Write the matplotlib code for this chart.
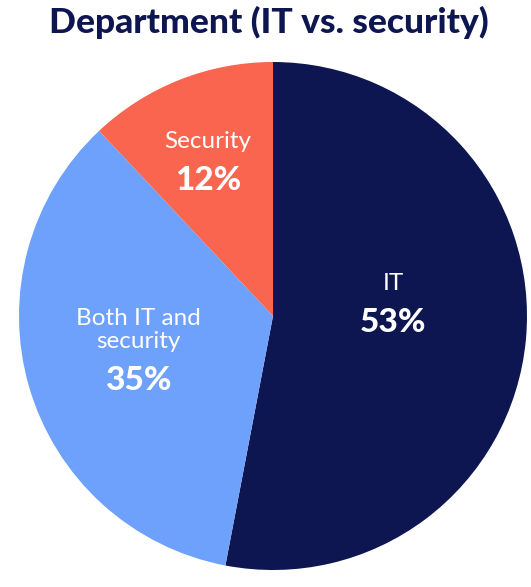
import matplotlib
matplotlib.use("Agg")
import matplotlib.pyplot as plt

# Survey breakdown by department
categories = ["IT", "Both IT and\nsecurity", "Security"]
shares = [53, 35, 12]
colors = ["#0D1650", "#6EA1FB", "#F9654F"]

W, H = 531, 587
fig = plt.figure(figsize=(W / 100, H / 100), dpi=100)
fig.patch.set_facecolor("white")

cx, cy, r = 273, 316, 254  # pie centre / radius in pixels
ax = fig.add_axes([(cx - r) / W, (H - cy - r) / H, 2 * r / W, 2 * r / H])
ax.pie(shares, colors=colors, startangle=90, counterclock=False,
       radius=1, wedgeprops=dict(linewidth=0))
ax.set_xlim(-1, 1)
ax.set_ylim(-1, 1)
ax.set_aspect("equal")
ax.axis("off")

font = ["Lato", "DejaVu Sans"]


def px(x, y):
    return (x - cx) / r, (cy - y) / r


# label anchor points (pixel positions of name / value centres)
name_pos = {"IT": (393, 284), "Both IT and\nsecurity": (138, 330), "Security": (208, 141)}
value_pos = {"IT": (393, 323), "Both IT and\nsecurity": (138, 381), "Security": (208, 180)}

for cat, val in zip(categories, shares):
    x, y = px(*name_pos[cat])
    ax.text(x, y, cat, ha="center", va="center", color="white",
            fontsize=17.5, family=font, linespacing=1.15)
    x, y = px(*value_pos[cat])
    ax.text(x, y, f"{val}%", ha="center", va="center", color="white",
            fontsize=24, fontweight="black", family=font)

fig.text(269 / W, 1 - 33 / H, "Department (IT vs. security)", ha="center",
         va="baseline", color="#0D1650", fontsize=25.5, fontweight="black",
         family=font)

fig.savefig("out.png", dpi=100)
